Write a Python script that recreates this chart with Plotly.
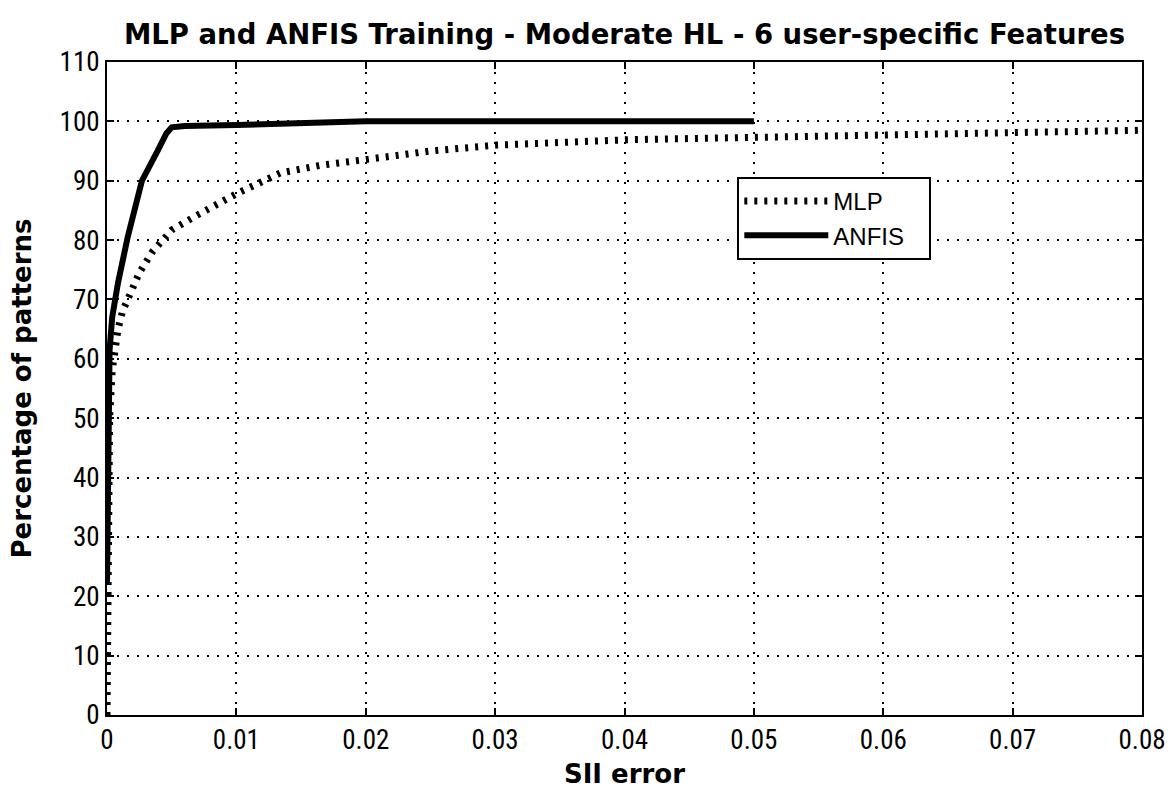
import plotly.graph_objects as go

# MLP curve (SII error vs percentage of patterns)
mlp_x = [0, 0.0001, 0.0002, 0.0004, 0.0006, 0.00085, 0.0012, 0.0016, 0.0025, 0.0035, 0.005,
         0.0068, 0.0085, 0.01, 0.0134, 0.0165, 0.0201, 0.025, 0.0301, 0.035, 0.0402, 0.045,
         0.05, 0.055, 0.06, 0.065, 0.07, 0.075, 0.08]
mlp_y = [0, 30, 50, 58, 62, 65, 68, 70, 74.5, 78, 81.7,
         84, 86, 87.8, 91.3, 92.6, 93.6, 95, 96, 96.5, 96.9, 97.1,
         97.3, 97.5, 97.6, 97.8, 98, 98.2, 98.5]

# ANFIS curve
anfis_x = [0, 0.0001, 0.0002, 0.0004, 0.00085, 0.0016, 0.0027, 0.0039, 0.0046, 0.005,
           0.006, 0.01, 0.015, 0.02, 0.03, 0.04, 0.05]
anfis_y = [22, 50, 61.5, 67, 72.8, 80.5, 90, 95, 98, 99,
           99.2, 99.4, 99.6, 100, 100, 100, 100]

x_ticks = [0, 0.01, 0.02, 0.03, 0.04, 0.05, 0.06, 0.07, 0.08]
x_labels = ["0", "0.01", "0.02", "0.03", "0.04", "0.05", "0.06", "0.07", "0.08"]
y_ticks = list(range(0, 111, 10))

fig = go.Figure()
fig.add_trace(go.Scatter(x=mlp_x, y=mlp_y, mode="lines", name="MLP",
                         line=dict(color="black", width=7, dash="3px,7px")))
fig.add_trace(go.Scatter(x=anfis_x, y=anfis_y, mode="lines", name="ANFIS&nbsp;&nbsp;&nbsp;",
                         line=dict(color="black", width=6)))

bold_font = "DejaVu Sans, Liberation Sans, Arial, sans-serif"
tick_font = "Liberation Sans Narrow, Arial Narrow, Roboto Condensed, Liberation Sans, sans-serif"
leg_font = "Liberation Sans, Arial, sans-serif"

axis_common = dict(showline=True, linecolor="black", linewidth=2, mirror="ticks",
                   ticks="inside", ticklen=7, tickcolor="black", tickwidth=2,
                   showgrid=True, gridcolor="black", gridwidth=2, griddash="2px,8px",
                   zeroline=False, automargin=False,
                   tickfont=dict(family=tick_font, size=27, color="black"))

fig.update_layout(
    width=1172, height=789,
    paper_bgcolor="white", plot_bgcolor="white",
    margin=dict(l=107, r=30, t=62, b=74),
    title=dict(text="<b>MLP and ANFIS Training - Moderate HL - 6 user-specific Features</b>",
               x=(107 + 1142) / 2 / 1172, xanchor="center", y=1 - 34 / 789, yanchor="middle",
               font=dict(family=bold_font, size=27.5, color="black")),
    xaxis=dict(range=[0, 0.08], tickvals=x_ticks, ticktext=x_labels,
               title=dict(text="<b>SII error</b>", font=dict(family=bold_font, size=26, color="black"),
                          standoff=10),
               **axis_common),
    yaxis=dict(range=[0, 110], tickvals=y_ticks,
               title=dict(text="<b>Percentage of patterns</b>", font=dict(family=bold_font, size=26, color="black"),
                          standoff=20),
               **axis_common),
    legend=dict(x=0.609, y=0.824, xanchor="left", yanchor="top",
                bgcolor="white", bordercolor="black", borderwidth=2,
                font=dict(family=leg_font, size=24, color="black"),
                itemwidth=84, tracegroupgap=6),
    showlegend=True,
)

fig.write_html("out.html")
